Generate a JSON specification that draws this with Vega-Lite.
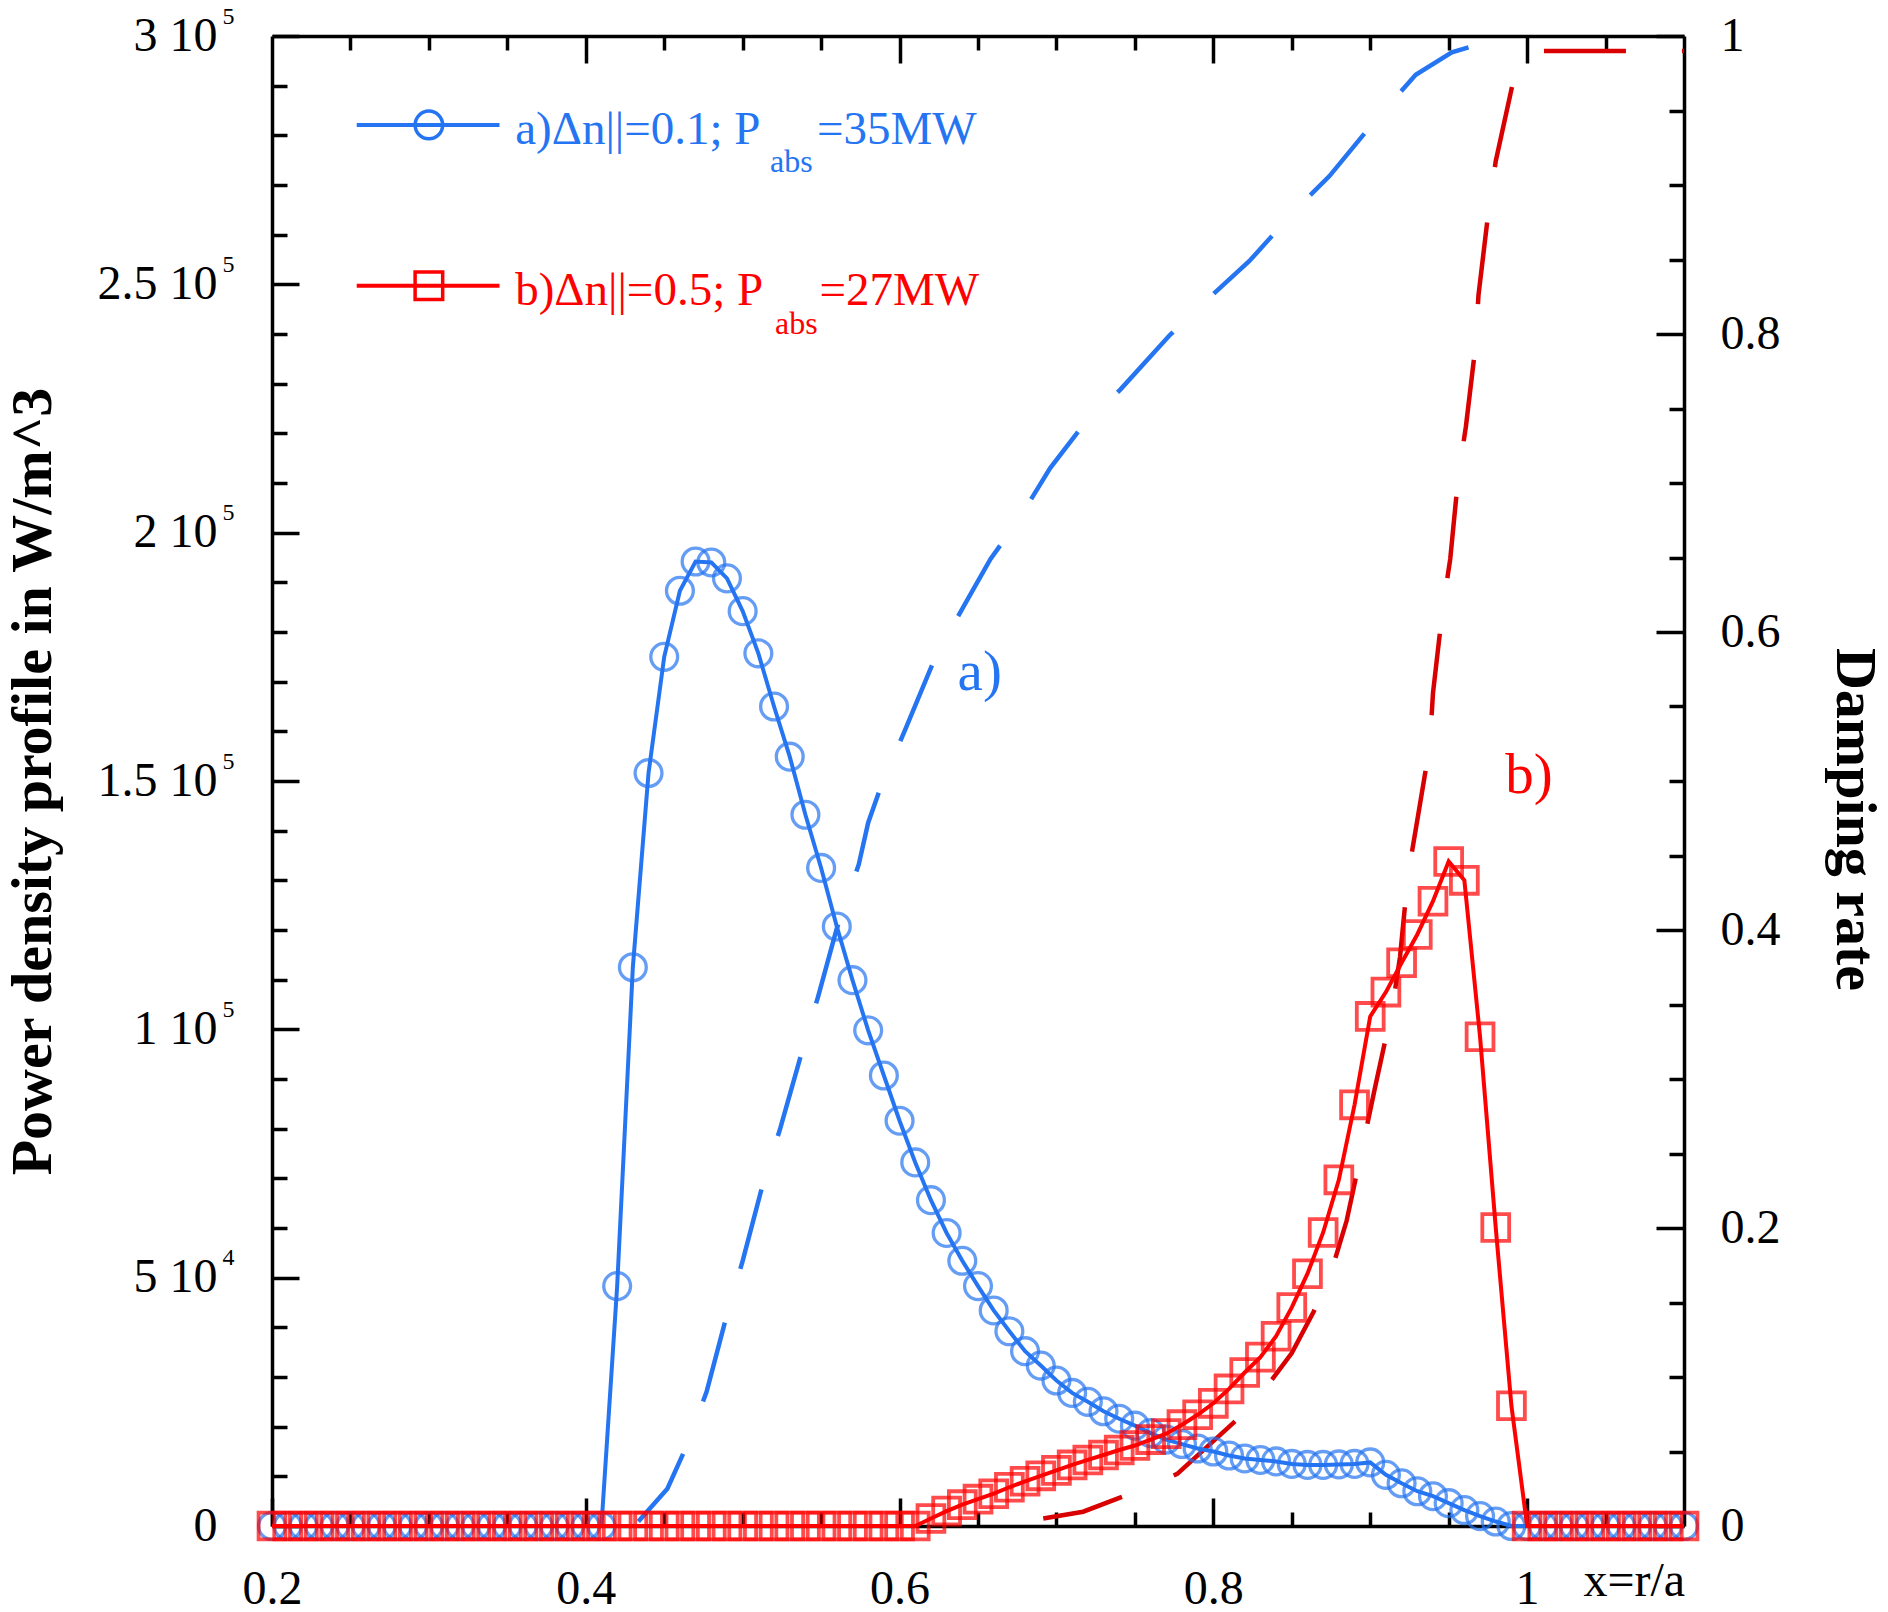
{
  "$schema": "https://vega.github.io/schema/vega-lite/v6.json",
  "width": 1412,
  "height": 1490,
  "autosize": {"type": "none"},
  "padding": {"left": 272, "top": 36, "right": 204, "bottom": 86},
  "background": "white",
  "config": {
    "view": {"stroke": null},
    "font": "Liberation Serif",
    "axis": {
      "grid": false,
      "domainColor": "black",
      "domainWidth": 3.5,
      "tickColor": "black",
      "tickWidth": 3.5,
      "labelFont": "Liberation Serif",
      "labelFontSize": 48,
      "labelColor": "black",
      "labelFlush": false,
      "labelOverlap": false,
      "labelBound": false,
      "titleFont": "Liberation Serif",
      "titleColor": "black",
      "titleFontWeight": "bold",
      "titleFontSize": 58
    }
  },
  "datasets": {
    "power": [
      {"x": 0.20, "a": 0, "b": 0}, {"x": 0.21, "a": 0, "b": 0}, {"x": 0.22, "a": 0, "b": 0},
      {"x": 0.23, "a": 0, "b": 0}, {"x": 0.24, "a": 0, "b": 0}, {"x": 0.25, "a": 0, "b": 0},
      {"x": 0.26, "a": 0, "b": 0}, {"x": 0.27, "a": 0, "b": 0}, {"x": 0.28, "a": 0, "b": 0},
      {"x": 0.29, "a": 0, "b": 0}, {"x": 0.30, "a": 0, "b": 0}, {"x": 0.31, "a": 0, "b": 0},
      {"x": 0.32, "a": 0, "b": 0}, {"x": 0.33, "a": 0, "b": 0}, {"x": 0.34, "a": 0, "b": 0},
      {"x": 0.35, "a": 0, "b": 0}, {"x": 0.36, "a": 0, "b": 0}, {"x": 0.37, "a": 0, "b": 0},
      {"x": 0.38, "a": 0, "b": 0}, {"x": 0.39, "a": 0, "b": 0}, {"x": 0.40, "a": 0, "b": 0},
      {"x": 0.41, "a": 0, "b": 0}, {"x": 0.42, "a": 48300, "b": 0}, {"x": 0.43, "a": 112500, "b": 0},
      {"x": 0.44, "a": 151600, "b": 0}, {"x": 0.45, "a": 175000, "b": 0}, {"x": 0.46, "a": 188300, "b": 0},
      {"x": 0.47, "a": 194200, "b": 0}, {"x": 0.48, "a": 194000, "b": 0}, {"x": 0.49, "a": 190800, "b": 0},
      {"x": 0.50, "a": 184200, "b": 0}, {"x": 0.51, "a": 175700, "b": 0}, {"x": 0.52, "a": 165000, "b": 0},
      {"x": 0.53, "a": 154900, "b": 0}, {"x": 0.54, "a": 143200, "b": 0}, {"x": 0.55, "a": 132500, "b": 0},
      {"x": 0.56, "a": 120700, "b": 0}, {"x": 0.57, "a": 109900, "b": 0}, {"x": 0.58, "a": 99800, "b": 0},
      {"x": 0.59, "a": 90700, "b": 0}, {"x": 0.60, "a": 81600, "b": 0}, {"x": 0.61, "a": 73200, "b": 0},
      {"x": 0.62, "a": 65600, "b": 1500}, {"x": 0.63, "a": 59000, "b": 3000}, {"x": 0.64, "a": 53400, "b": 4300},
      {"x": 0.65, "a": 48300, "b": 5400}, {"x": 0.66, "a": 43400, "b": 6500}, {"x": 0.67, "a": 39200, "b": 7800},
      {"x": 0.68, "a": 35200, "b": 9000}, {"x": 0.69, "a": 32300, "b": 10100}, {"x": 0.70, "a": 29300, "b": 11200},
      {"x": 0.71, "a": 26800, "b": 12300}, {"x": 0.72, "a": 25000, "b": 13300}, {"x": 0.73, "a": 23100, "b": 14300},
      {"x": 0.74, "a": 21600, "b": 15300}, {"x": 0.75, "a": 20200, "b": 16200}, {"x": 0.76, "a": 18700, "b": 17400},
      {"x": 0.77, "a": 17400, "b": 18600}, {"x": 0.78, "a": 16500, "b": 20400}, {"x": 0.79, "a": 15600, "b": 22400},
      {"x": 0.80, "a": 15000, "b": 24700}, {"x": 0.81, "a": 14200, "b": 27600}, {"x": 0.82, "a": 13600, "b": 30900},
      {"x": 0.83, "a": 13300, "b": 34000}, {"x": 0.84, "a": 13000, "b": 38200}, {"x": 0.85, "a": 12500, "b": 44000},
      {"x": 0.86, "a": 12300, "b": 50800}, {"x": 0.87, "a": 12300, "b": 59100}, {"x": 0.88, "a": 12400, "b": 69700},
      {"x": 0.89, "a": 12500, "b": 84800}, {"x": 0.90, "a": 12800, "b": 102600}, {"x": 0.91, "a": 10300, "b": 107500},
      {"x": 0.92, "a": 8600, "b": 113400}, {"x": 0.93, "a": 7000, "b": 119100}, {"x": 0.94, "a": 6000, "b": 125800},
      {"x": 0.95, "a": 4600, "b": 133800}, {"x": 0.96, "a": 3200, "b": 130000}, {"x": 0.97, "a": 2000, "b": 98500},
      {"x": 0.98, "a": 900, "b": 60100}, {"x": 0.99, "a": 0, "b": 24200}, {"x": 1.00, "a": 0, "b": 0},
      {"x": 1.01, "a": 0, "b": 0}, {"x": 1.02, "a": 0, "b": 0}, {"x": 1.03, "a": 0, "b": 0},
      {"x": 1.04, "a": 0, "b": 0}, {"x": 1.05, "a": 0, "b": 0}, {"x": 1.06, "a": 0, "b": 0},
      {"x": 1.07, "a": 0, "b": 0}, {"x": 1.08, "a": 0, "b": 0}, {"x": 1.09, "a": 0, "b": 0},
      {"x": 1.10, "a": 0, "b": 0}
    ],
    "dampA": [
      {"x": 0.4335, "d": 0.003}, {"x": 0.452, "d": 0.025}, {"x": 0.464, "d": 0.053},
      {"x": 0.477, "d": 0.09}, {"x": 0.49, "d": 0.142}, {"x": 0.5, "d": 0.178},
      {"x": 0.513, "d": 0.23}, {"x": 0.524, "d": 0.267}, {"x": 0.538, "d": 0.319},
      {"x": 0.548, "d": 0.355}, {"x": 0.56, "d": 0.401}, {"x": 0.574, "d": 0.444},
      {"x": 0.58, "d": 0.472}, {"x": 0.588, "d": 0.496}, {"x": 0.603, "d": 0.533},
      {"x": 0.624, "d": 0.586}, {"x": 0.644, "d": 0.623}, {"x": 0.658, "d": 0.649},
      {"x": 0.675, "d": 0.674}, {"x": 0.696, "d": 0.71}, {"x": 0.715, "d": 0.736},
      {"x": 0.741, "d": 0.763}, {"x": 0.772, "d": 0.799}, {"x": 0.797, "d": 0.824},
      {"x": 0.823, "d": 0.849}, {"x": 0.853, "d": 0.884}, {"x": 0.874, "d": 0.906},
      {"x": 0.899, "d": 0.938}, {"x": 0.929, "d": 0.974}, {"x": 0.952, "d": 0.989},
      {"x": 0.98, "d": 0.998}
    ],
    "dampB": [
      {"x": 0.6916, "d": 0.005}, {"x": 0.717, "d": 0.0096}, {"x": 0.743, "d": 0.02},
      {"x": 0.76, "d": 0.027}, {"x": 0.777, "d": 0.035}, {"x": 0.8, "d": 0.057},
      {"x": 0.825, "d": 0.081}, {"x": 0.85, "d": 0.116}, {"x": 0.864, "d": 0.144},
      {"x": 0.875, "d": 0.17}, {"x": 0.885, "d": 0.205}, {"x": 0.896, "d": 0.259},
      {"x": 0.903, "d": 0.294}, {"x": 0.914, "d": 0.347}, {"x": 0.919, "d": 0.382},
      {"x": 0.924, "d": 0.436}, {"x": 0.931, "d": 0.48}, {"x": 0.938, "d": 0.524},
      {"x": 0.94, "d": 0.559}, {"x": 0.946, "d": 0.614}, {"x": 0.951, "d": 0.649},
      {"x": 0.956, "d": 0.703}, {"x": 0.961, "d": 0.738}, {"x": 0.967, "d": 0.791},
      {"x": 0.969, "d": 0.826}, {"x": 0.975, "d": 0.879}, {"x": 0.98, "d": 0.916},
      {"x": 0.991, "d": 0.969}, {"x": 1.0, "d": 0.99}, {"x": 1.1, "d": 0.99}
    ],
    "key": [
      {"series": "a", "x": 0.254, "x2": 0.345, "xm": 0.3, "y": 282100},
      {"series": "b", "x": 0.254, "x2": 0.345, "xm": 0.3, "y": 249700}
    ],
    "keyText": [
      {"series": "a", "label": "a)Δn||=0.1; P", "sub": "abs", "tail": "=35MW", "x": 0.355, "xs": 0.5174, "xt": 0.5474, "y": 278300, "ys": 272600},
      {"series": "b", "label": "b)Δn||=0.5; P", "sub": "abs", "tail": "=27MW", "x": 0.355, "xs": 0.5206, "xt": 0.549, "y": 245800, "ys": 240100}
    ],
    "notes": [
      {"series": "a", "label": "a)", "x": 0.637, "y": 168300},
      {"series": "b", "label": "b)", "x": 0.986, "y": 147600}
    ]
  },
  "layer": [
    {
      "data": {"name": "dampA"},
      "mark": {"type": "line", "color": "#2575f2", "strokeWidth": 4.5, "strokeDash": [82, 56]},
      "encoding": {
        "x": {"field": "x", "type": "quantitative", "scale": {"domain": [0.2, 1.1], "nice": false},
          "axis": {"orient": "bottom", "values": [0.2, 0.4, 0.6, 0.8, 1], "tickSize": -28, "labelPadding": 67, "title": null,
            "labelExpr": "datum.value == 1 ? '1' : format(datum.value, '.1f')"}},
        "y": {"field": "d", "type": "quantitative", "scale": {"domain": [0, 1], "nice": false},
          "axis": {"orient": "right", "values": [0, 0.2, 0.4, 0.6, 0.8, 1], "tickSize": -28, "labelPadding": 64,
            "labelExpr": "datum.value == 1 ? '1' : datum.value == 0 ? '0' : format(datum.value, '.1f')",
            "title": "Damping rate", "titlePadding": 44, "titleY": 783}}
      }
    },
    {
      "data": {"name": "dampB"},
      "mark": {"type": "line", "color": "#d80000", "strokeWidth": 4.5, "strokeDash": [82, 56]},
      "encoding": {
        "x": {"field": "x", "type": "quantitative", "scale": {"domain": [0.2, 1.1], "nice": false},
          "axis": {"orient": "bottom", "values": [0.25, 0.3, 0.35, 0.45, 0.5, 0.55, 0.65, 0.7, 0.75, 0.85, 0.9, 0.95, 1.05],
            "tickSize": -14, "labels": false, "domain": false, "title": null}},
        "y": {"field": "d", "type": "quantitative", "scale": {"domain": [0, 1], "nice": false},
          "axis": {"orient": "right", "values": [0.05, 0.1, 0.15, 0.25, 0.3, 0.35, 0.45, 0.5, 0.55, 0.65, 0.7, 0.75, 0.85, 0.9, 0.95],
            "tickSize": -15, "labels": false, "domain": false, "title": null}}
      }
    },
    {
      "data": {"name": "power"},
      "mark": {"type": "line", "color": "#2575f2", "strokeWidth": 4},
      "encoding": {
        "x": {"field": "x", "type": "quantitative", "scale": {"domain": [0.2, 1.1], "nice": false},
          "axis": {"orient": "top", "values": [0.4, 0.6, 0.8, 1], "tickSize": -27, "labels": false, "title": null}},
        "y": {"field": "a", "type": "quantitative", "scale": {"domain": [0, 300000], "nice": false},
          "axis": {"orient": "left", "values": [0, 50000, 100000, 150000, 200000, 250000, 300000], "tickSize": -27, "labelPadding": 82,
            "labelExpr": "datum.value == 0 ? '0' : datum.value == 50000 ? '5 10' : datum.value == 100000 ? '1 10' : datum.value == 150000 ? '1.5 10' : datum.value == 200000 ? '2 10' : datum.value == 250000 ? '2.5 10' : '3 10'",
            "title": "Power density profile in W/m^3", "titlePadding": 35}}
      }
    },
    {
      "data": {"name": "power"},
      "mark": {"type": "point", "shape": "circle", "filled": false, "size": 720, "strokeWidth": 3.3, "color": "#2575f2"},
      "encoding": {
        "x": {"field": "x", "type": "quantitative", "scale": {"domain": [0.2, 1.1], "nice": false},
          "axis": {"orient": "top", "values": [0.25, 0.3, 0.35, 0.45, 0.5, 0.55, 0.65, 0.7, 0.75, 0.85, 0.9, 0.95, 1.05],
            "tickSize": -14, "labels": false, "domain": false, "title": null}},
        "y": {"field": "a", "type": "quantitative", "scale": {"domain": [0, 300000], "nice": false},
          "axis": {"orient": "left", "values": [10000, 20000, 30000, 40000, 60000, 70000, 80000, 90000, 110000, 120000, 130000, 140000, 160000, 170000, 180000, 190000, 210000, 220000, 230000, 240000, 260000, 270000, 280000, 290000],
            "tickSize": -15, "labels": false, "domain": false, "title": null}}
      }
    },
    {
      "data": {"name": "power"},
      "mark": {"type": "line", "color": "#ff0000", "strokeWidth": 4},
      "encoding": {
        "x": {"field": "x", "type": "quantitative", "scale": {"domain": [0.2, 1.1], "nice": false},
          "axis": {"orient": "bottom", "values": [1.068], "ticks": false, "domain": false, "labelPadding": 31, "labelFontSize": 48,
            "labelExpr": "'x=r/a'", "title": null}},
        "y": {"field": "b", "type": "quantitative", "scale": {"domain": [0, 300000], "nice": false},
          "axis": {"orient": "left", "values": [50000, 100000, 150000, 200000, 250000, 300000], "ticks": false, "domain": false,
            "labelPadding": 38, "labelFontSize": 24, "labelOffset": -20,
            "labelExpr": "datum.value == 50000 ? '4' : '5'", "title": null}}
      }
    },
    {
      "data": {"name": "power"},
      "mark": {"type": "point", "shape": "square", "filled": false, "size": 720, "strokeWidth": 3.8, "color": "#ff0000"},
      "encoding": {
        "x": {"field": "x", "type": "quantitative", "scale": {"domain": [0.2, 1.1], "nice": false}, "axis": null},
        "y": {"field": "b", "type": "quantitative", "scale": {"domain": [0, 300000], "nice": false}, "axis": null}
      }
    },
    {
      "data": {"name": "key"},
      "mark": {"type": "rule", "strokeWidth": 4},
      "encoding": {
        "x": {"field": "x", "type": "quantitative", "scale": {"domain": [0.2, 1.1], "nice": false}, "axis": null},
        "x2": {"field": "x2"},
        "y": {"field": "y", "type": "quantitative", "scale": {"domain": [0, 300000], "nice": false}, "axis": null},
        "color": {"field": "series", "type": "nominal", "scale": {"domain": ["a", "b"], "range": ["#2575f2", "#ff0000"]}, "legend": null}
      }
    },
    {
      "data": {"name": "key"},
      "mark": {"type": "point", "filled": false, "size": 760, "strokeWidth": 3.5, "opacity": 1},
      "encoding": {
        "x": {"field": "xm", "type": "quantitative", "scale": {"domain": [0.2, 1.1], "nice": false}, "axis": null},
        "y": {"field": "y", "type": "quantitative", "scale": {"domain": [0, 300000], "nice": false}, "axis": null},
        "shape": {"field": "series", "type": "nominal", "scale": {"domain": ["a", "b"], "range": ["circle", "square"]}, "legend": null},
        "color": {"field": "series", "type": "nominal", "scale": {"domain": ["a", "b"], "range": ["#2575f2", "#ff0000"]}, "legend": null}
      }
    },
    {
      "data": {"name": "keyText"},
      "mark": {"type": "text", "align": "left", "baseline": "alphabetic", "fontSize": 47, "font": "Liberation Serif"},
      "encoding": {
        "x": {"field": "x", "type": "quantitative", "scale": {"domain": [0.2, 1.1], "nice": false}, "axis": null},
        "y": {"field": "y", "type": "quantitative", "scale": {"domain": [0, 300000], "nice": false}, "axis": null},
        "text": {"field": "label"},
        "color": {"field": "series", "type": "nominal", "scale": {"domain": ["a", "b"], "range": ["#2575f2", "#ff0000"]}, "legend": null}
      }
    },
    {
      "data": {"name": "keyText"},
      "mark": {"type": "text", "align": "left", "baseline": "alphabetic", "fontSize": 32, "font": "Liberation Serif"},
      "encoding": {
        "x": {"field": "xs", "type": "quantitative", "scale": {"domain": [0.2, 1.1], "nice": false}, "axis": null},
        "y": {"field": "ys", "type": "quantitative", "scale": {"domain": [0, 300000], "nice": false}, "axis": null},
        "text": {"field": "sub"},
        "color": {"field": "series", "type": "nominal", "scale": {"domain": ["a", "b"], "range": ["#2575f2", "#ff0000"]}, "legend": null}
      }
    },
    {
      "data": {"name": "keyText"},
      "mark": {"type": "text", "align": "left", "baseline": "alphabetic", "fontSize": 47, "font": "Liberation Serif"},
      "encoding": {
        "x": {"field": "xt", "type": "quantitative", "scale": {"domain": [0.2, 1.1], "nice": false}, "axis": null},
        "y": {"field": "y", "type": "quantitative", "scale": {"domain": [0, 300000], "nice": false}, "axis": null},
        "text": {"field": "tail"},
        "color": {"field": "series", "type": "nominal", "scale": {"domain": ["a", "b"], "range": ["#2575f2", "#ff0000"]}, "legend": null}
      }
    },
    {
      "data": {"name": "notes"},
      "mark": {"type": "text", "align": "left", "baseline": "alphabetic", "fontSize": 57, "font": "Liberation Serif"},
      "encoding": {
        "x": {"field": "x", "type": "quantitative", "scale": {"domain": [0.2, 1.1], "nice": false}, "axis": null},
        "y": {"field": "y", "type": "quantitative", "scale": {"domain": [0, 300000], "nice": false}, "axis": null},
        "text": {"field": "label"},
        "color": {"field": "series", "type": "nominal", "scale": {"domain": ["a", "b"], "range": ["#2575f2", "#ff0000"]}, "legend": null}
      }
    }
  ],
  "resolve": {
    "scale": {"y": "independent"},
    "axis": {"x": "independent", "y": "independent"}
  }
}
